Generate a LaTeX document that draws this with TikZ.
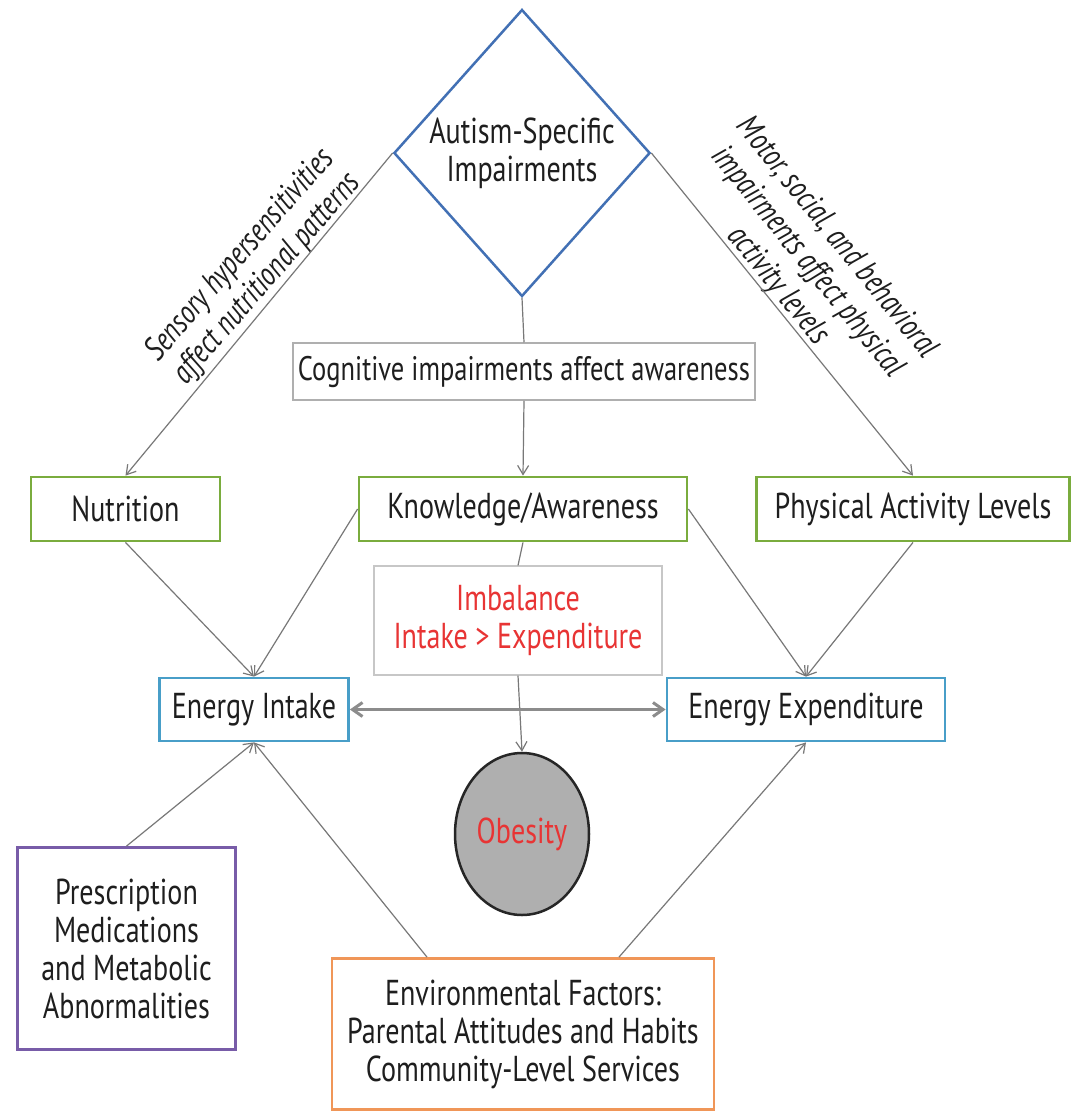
\documentclass[tikz,border=0pt]{standalone}
\usepackage{fontspec}
\setmainfont{PT Sans}[FakeStretch=0.78]
\usetikzlibrary{arrows.meta,shapes.geometric}
\definecolor{dblue}{RGB}{66,112,180}
\definecolor{ggreen}{RGB}{122,172,62}
\definecolor{tblue}{RGB}{72,158,200}
\definecolor{ppurple}{RGB}{120,92,168}
\definecolor{oorange}{RGB}{240,150,88}
\definecolor{lgray}{RGB}{120,120,120}
\definecolor{bgray}{RGB}{175,175,175}
\definecolor{txt}{RGB}{30,30,30}
\definecolor{rred}{RGB}{232,52,52}
\begin{document}
\begin{tikzpicture}[x=1pt,y=-1pt,
  font=\fontsize{36}{38}\selectfont, text=txt,
  box/.style={draw, fill=white, line width=2.8pt, align=center, inner sep=0pt},
  arr/.style={draw=lgray, line width=1.2pt, -{Straight Barb[length=9pt,width=11pt]}},
  ln/.style={draw=lgray, line width=1.2pt},
  lab/.style={font=\itshape\fontsize{33}{36}\selectfont, align=center, inner sep=0pt}]
\useasboundingbox[fill=white] (0,0) rectangle (1072,1112);

\node[diamond, draw=dblue, line width=2.5pt, fill=white, minimum width=245pt, minimum height=287pt, inner sep=0pt, align=center] (aut) at (522,153) {Autism-Specific\\Impairments};

\node[box, draw=bgray, line width=1.5pt, minimum width=462pt, minimum height=57pt, font=\fontsize{34}{38}\selectfont] (cog) at (524,371.5) {Cognitive impairments affect awareness};

\node[box, draw=ggreen, minimum width=189pt, minimum height=64pt] (nut) at (125.5,509) {Nutrition};
\node[box, draw=ggreen, minimum width=328pt, minimum height=64pt] (know) at (523,509) {Knowledge/Awareness};
\node[box, draw=ggreen, minimum width=313pt, minimum height=64pt] (phys) at (913,509) {Physical Activity Levels};

\node[box, draw=bgray!70, line width=1.2pt, minimum width=288pt, minimum height=109pt, text=rred] (imb) at (518,620.5) {Imbalance\\Intake > Expenditure};

\node[box, draw=tblue, minimum width=189pt, minimum height=63pt] (ei) at (254,709.5) {Energy Intake};
\node[box, draw=tblue, minimum width=278pt, minimum height=63pt] (ee) at (806,709.5) {Energy Expenditure};

\node[ellipse, draw=black!85, fill=bgray, line width=2.5pt, minimum width=134pt, minimum height=162pt, inner sep=0pt, text=rred] (obe) at (522,834) {Obesity};

\node[box, draw=ppurple, minimum width=218pt, minimum height=202pt] (presc) at (126.5,948.5) {Prescription\\Medications\\and Metabolic\\Abnormalities};
\node[box, draw=oorange, minimum width=382pt, minimum height=151pt] (env) at (523,1034) {Environmental Factors:\\Parental Attitudes and Habits\\Community-Level Services};

% rotated labels
\node[lab, rotate=49] (lsens) at (254,267) {Sensory hypersensitivities\\affect nutritional patterns};
\node[lab, rotate=-51, font=\itshape\fontsize{33}{38}\selectfont] (lmot) at (807,262) {Motor, social, and behavioral\\impairments affect physical\\activity levels};

% connectors
\draw[arr] (aut.west) -- (nut.north);
\draw[arr] (aut.east) -- (phys.north);
\draw[ln] (aut.south) -- (cog.north);
\draw[arr] (cog.south) -- (know.north);
\draw[arr] (nut.south) -- (ei.north);
\draw[arr] (know.west) -- (ei.north);
\draw[arr] (know.east) -- (ee.north);
\draw[arr] (phys.south) -- (ee.north);
\draw[ln] (know.south) -- (imb.north);
\draw[arr] (imb.south) -- (obe.north);
\draw[draw=black!45, line width=3pt, {Straight Barb[length=10pt,width=14pt]}-{Straight Barb[length=10pt,width=14pt]}] (ei.east) -- (ee.west);
\draw[arr] (presc.north) -- (ei.south);
\draw[arr] ([xshift=-96pt]env.north) -- (ei.south);
\draw[arr] ([xshift=96pt]env.north) -- (ee.south);
\end{tikzpicture}
\end{document}
